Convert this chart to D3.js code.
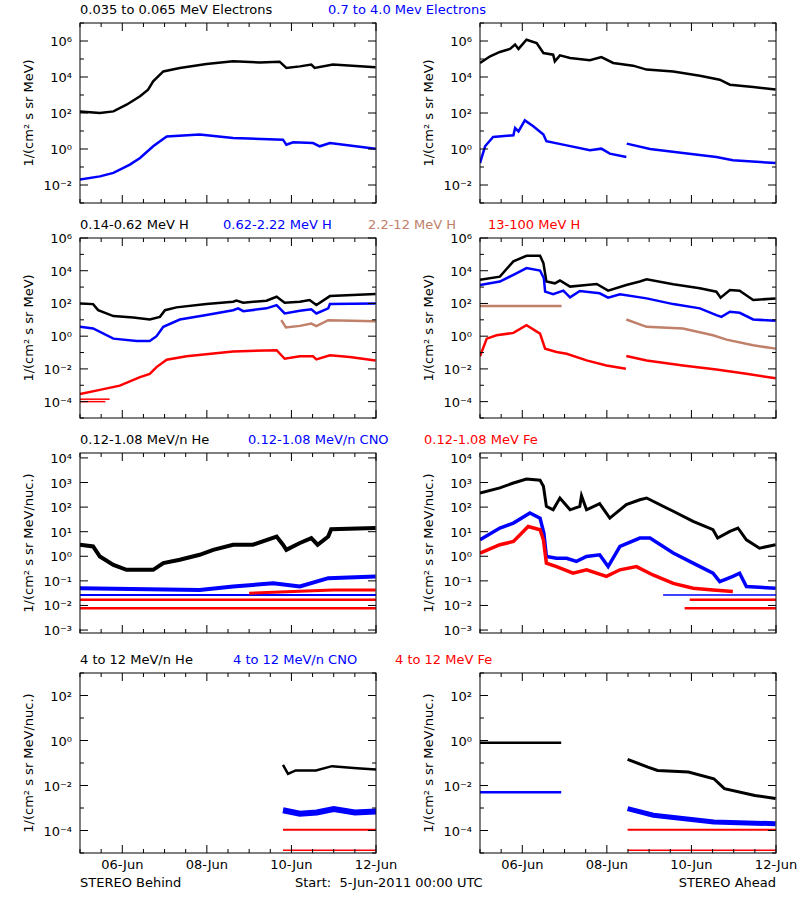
<!DOCTYPE html>
<html><head><meta charset="utf-8">
<script src="https://cdn.jsdelivr.net/npm/d3@7"></script>
<style>body{margin:0;background:#fff}text{font-family:"DejaVu Sans",sans-serif}</style>
</head><body>
<svg id="c" width="800" height="900"></svg>
<script>
// values are [day since 5-Jun-2011 00:00, log10(flux)]
const xTickLabels = ["06-Jun","08-Jun","10-Jun","12-Jun"];
const xTickDays = [1,3,5,7];
const titles = [
  [["0.035 to 0.065 MeV Electrons","#000"],["0.7 to 4.0 Mev Electrons","#0000ff"]],
  [["0.14-0.62 MeV H","#000"],["0.62-2.22 MeV H","#0000ff"],["2.2-12 MeV H","#c0806a"],["13-100 MeV H","#ff0000"]],
  [["0.12-1.08 MeV/n He","#000"],["0.12-1.08 MeV/n CNO","#0000ff"],["0.12-1.08 MeV Fe","#ff0000"]],
  [["4 to 12 MeV/n He","#000"],["4 to 12 MeV/n CNO","#0000ff"],["4 to 12 MeV Fe","#ff0000"]]
];
const titleX = [[80,328],[80,223,368,488],[80,248,424],[80,233,395]];
const yDomainsLog = [[-3,7],[-5,6],[-3.12,4.2],[-5,3]];
const yLabelStep = [2,2,1,2];
const yTitles = ["1/(cm² s sr MeV)","1/(cm² s sr MeV)","1/(cm² s sr MeV/nuc.)","1/(cm² s sr MeV/nuc.)"];

// Row 1 electrons
const eLoB = [[0,2.09],[0.47,2.0],[0.79,2.09],[1.1,2.46],[1.42,2.93],[1.61,3.3],[1.73,3.76],[1.97,4.31],[2.36,4.5],[2.99,4.72],[3.62,4.87],[4.25,4.81],[4.72,4.85],[4.88,4.5],[5.2,4.59],[5.47,4.69],[5.55,4.5],[5.98,4.69],[6.99,4.54]];
const eHiB = [[0,-1.7],[0.47,-1.52],[0.79,-1.33],[1.18,-0.87],[1.42,-0.5],[1.73,0.15],[2.05,0.7],[2.83,0.8],[3.62,0.61],[4.8,0.52],[4.88,0.24],[5.04,0.37],[5.51,0.33],[5.67,0.15],[5.91,0.33],[6.99,0.02]];
const eLoA = [[0,4.78],[0.24,5.15],[0.47,5.39],[0.71,5.56],[0.83,5.8],[0.91,5.56],[1.1,6.07],[1.34,5.89],[1.5,5.33],[1.73,5.24],[1.77,4.87],[1.89,5.2],[2.13,5.06],[2.6,4.93],[2.87,5.11],[3.15,4.78],[3.62,4.63],[3.94,4.41],[4.57,4.3],[5.2,4.07],[5.67,3.85],[5.91,3.57],[6.46,3.44],[6.99,3.3]];
const eHiA1 = [[0,-0.78],[0.12,0.15],[0.31,0.67],[0.79,0.76],[0.83,1.17],[0.91,0.98],[1.06,1.59],[1.26,1.26],[1.5,0.8],[1.57,0.43],[2.05,0.2],[2.6,-0.07],[2.87,0.02],[3.07,-0.26],[3.46,-0.44]];
const eHiA2 = [[3.47,0.3],[4.02,0],[4.8,-0.22],[5.59,-0.44],[5.98,-0.63],[6.99,-0.78]];

// Row 2 protons
const h1B = [[0,2.0],[0.31,1.96],[0.43,1.59],[0.79,1.23],[1.26,1.14],[1.65,1.02],[1.89,1.18],[2.01,1.59],[2.28,1.76],[2.99,1.96],[3.62,2.11],[3.7,2.17],[3.86,2.05],[4.41,2.17],[4.65,2.41],[4.84,2.05],[5.2,2.11],[5.43,2.21],[5.59,1.9],[5.91,2.45],[6.99,2.58]];
const h2B = [[0,0.57],[0.31,0.47],[0.79,-0.15],[1.34,-0.29],[1.65,-0.29],[1.81,0.0],[1.97,0.57],[2.36,1.02],[2.99,1.29],[3.62,1.59],[3.74,1.7],[3.86,1.53],[4.41,1.7],[4.65,1.9],[4.84,1.39],[5.2,1.55],[5.47,1.64],[5.59,1.39],[5.87,1.7],[5.91,1.96],[6.99,2.0]];
const h3B = [[4.76,0.98],[4.87,0.53],[5.2,0.63],[5.47,0.77],[5.59,0.61],[5.87,0.98],[6.99,0.92]];
const h4B = [[0,-3.53],[0.47,-3.28],[0.94,-3.02],[1.42,-2.5],[1.65,-2.3],[1.81,-1.89],[2.05,-1.44],[2.52,-1.23],[3.62,-0.93],[4.65,-0.86],[4.84,-1.38],[5.2,-1.23],[5.51,-1.23],[5.59,-1.42],[5.91,-1.17],[6.38,-1.27],[6.99,-1.48]];
const h4BFloor1 = [[0,-3.85],[0.7,-3.85]];
const h4BFloor2 = [[0,-4.0],[0.6,-4.0]];
const h1A = [[0,3.44],[0.47,3.64],[0.79,4.57],[1.1,4.91],[1.42,4.91],[1.5,4.46],[1.57,3.34],[1.77,3.23],[1.89,3.4],[2.13,3.03],[2.52,3.13],[2.76,3.19],[3.03,2.78],[3.46,3.13],[3.78,3.34],[3.94,3.48],[4.57,3.17],[5.2,2.93],[5.59,2.72],[5.69,2.35],[5.91,2.82],[6.14,2.78],[6.46,2.21],[6.99,2.31]];
const h2A = [[0,3.13],[0.47,3.34],[0.79,3.75],[1.1,4.16],[1.42,4.01],[1.51,3.54],[1.54,2.72],[1.73,2.56],[1.97,2.78],[2.13,2.37],[2.36,2.76],[2.83,2.62],[3.03,2.35],[3.31,2.56],[3.94,2.31],[4.57,1.96],[5.2,1.7],[5.59,1.29],[5.71,1.18],[5.91,1.49],[6.14,1.43],[6.46,1.02],[6.99,0.94]];
const h3A1 = [[0,1.84],[1.93,1.84]];
const h3A2 = [[3.46,1.02],[3.94,0.57],[4.8,0.47],[5.51,0.06],[5.83,-0.21],[6.46,-0.56],[6.99,-0.76]];
const h4A1 = [[0,-1.23],[0.16,-0.15],[0.39,0.06],[0.79,0.2],[1.1,0.67],[1.42,0.16],[1.54,-0.76],[1.81,-0.97],[2.05,-1.07],[2.52,-1.48],[2.99,-1.79],[3.45,-1.99]];
const h4A2 = [[3.46,-1.21],[3.94,-1.48],[4.8,-1.79],[5.59,-2.03],[6.3,-2.3],[6.99,-2.57]];

// Row 3 low-energy ions
const heB = [[0,0.47],[0.31,0.4],[0.47,-0.01],[0.79,-0.35],[1.1,-0.55],[1.42,-0.55],[1.73,-0.55],[1.97,-0.28],[2.36,-0.14],[2.83,0.06],[3.15,0.26],[3.62,0.47],[4.09,0.47],[4.65,0.8],[4.8,0.47],[4.88,0.26],[5.2,0.54],[5.47,0.74],[5.62,0.47],[5.87,0.8],[5.94,1.1],[6.99,1.15]];
const cnoB = [[0,-1.3],[2.83,-1.37],[3.62,-1.23],[4.57,-1.1],[5.2,-1.23],[5.87,-0.89],[6.99,-0.82]];
const feB = [[4.0,-1.5],[5.5,-1.4],[6.0,-1.37],[6.99,-1.37]];
const floorB1 = [[0,-1.57],[7,-1.57]];
const floorB2 = [[0,-1.77],[7,-1.77]];
const floorB3 = [[0,-2.11],[7,-2.11]];
const heA = [[0,2.57],[0.47,2.78],[0.79,2.98],[1.1,3.14],[1.42,3.09],[1.5,2.85],[1.57,2.03],[1.73,1.89],[1.89,2.37],[2.13,1.89],[2.36,2.03],[2.4,2.46],[2.52,1.89],[2.83,2.14],[3.07,1.55],[3.46,2.1],[3.78,2.3],[3.94,2.37],[4.57,1.83],[5.04,1.42],[5.51,1.08],[5.62,0.74],[5.91,1.01],[6.1,1.15],[6.3,0.67],[6.61,0.33],[6.99,0.47]];
const cnoA = [[0,0.67],[0.47,1.15],[0.79,1.35],[1.18,1.76],[1.42,1.55],[1.51,0.94],[1.57,-0.01],[1.81,-0.08],[2.05,-0.08],[2.28,-0.21],[2.52,-0.01],[2.83,0.06],[3.03,-0.42],[3.31,0.4],[3.78,0.74],[4.02,0.74],[4.57,0.13],[5.04,-0.28],[5.51,-0.69],[5.67,-1.03],[5.98,-0.82],[6.14,-0.69],[6.3,-1.23],[6.99,-1.3]];
const feA = [[0,0.13],[0.47,0.47],[0.79,0.6],[1.14,1.21],[1.42,1.08],[1.5,0.67],[1.57,-0.28],[1.81,-0.42],[2.2,-0.69],[2.52,-0.55],[2.99,-0.82],[3.31,-0.55],[3.7,-0.42],[4.09,-0.76],[4.57,-1.1],[5.04,-1.3],[5.51,-1.37],[5.98,-1.43]];
const floorA1 = [[4.33,-1.57],[7,-1.57]];
const floorA2 = [[4.96,-1.77],[7,-1.77]];
const floorA3 = [[4.84,-2.11],[7,-2.11]];

// Row 4 high-energy ions
const he4B = [[4.8,-1.08],[4.92,-1.48],[5.1,-1.33],[5.58,-1.33],[5.96,-1.14],[6.55,-1.23],[7.0,-1.29]];
const cno4B = [[4.8,-3.1],[5.2,-3.25],[5.6,-3.2],[6.0,-3.05],[6.5,-3.2],[7.0,-3.15]];
const fe4B1 = [[4.8,-3.97],[7,-3.97]];
const fe4B2 = [[4.8,-4.88],[7,-4.88]];
const he4A1 = [[0,-0.1],[1.92,-0.1]];
const he4A2 = [[3.49,-0.84],[3.97,-1.18],[4.2,-1.33],[4.93,-1.4],[5.53,-1.7],[5.78,-2.14],[6.5,-2.44],[6.99,-2.58]];
const cno4A1 = [[0,-2.3],[1.92,-2.3]];
const cno4A2 = [[3.49,-3.03],[4.1,-3.32],[5.53,-3.62],[6.99,-3.7]];
const fe4A1 = [[3.49,-3.97],[7,-3.97]];
const fe4A2 = [[3.49,-4.88],[7,-4.88]];

const K="#000",B="#0000ff",BR="#c0806a",R="#ff0000";
const panels = [
  [[[eLoB,K,2.5],[eHiB,B,2.5]], [[eLoA,K,2.5],[eHiA1,B,2.5],[eHiA2,B,2.5]]],
  [[[h1B,K,2.5],[h2B,B,2.5],[h3B,BR,2.5],[h4B,R,2.5],[h4BFloor1,R,1.5],[h4BFloor2,R,1.5]],
   [[h1A,K,2.5],[h2A,B,2.5],[h3A1,BR,2.5],[h3A2,BR,2.5],[h4A1,R,2.5],[h4A2,R,2.5]]],
  [[[floorB1,B,2],[floorB2,R,2.5],[floorB3,R,2.5],[cnoB,B,4],[feB,R,3],[heB,K,4]],
   [[floorA1,B,1.5],[floorA2,R,2.5],[floorA3,R,2.5],[heA,K,3],[cnoA,B,3.5],[feA,R,3.5]]],
  [[[he4B,K,2.5],[cno4B,B,6],[fe4B1,R,2],[fe4B2,R,1.5]],
   [[he4A1,K,2.5],[he4A2,K,3],[cno4A1,B,2.5],[cno4A2,B,5],[fe4A1,R,2],[fe4A2,R,1.5]]]
];

const svg = d3.select("#c");
const rowTop = [23,238,453,673], H = 180;
const colLeft = [80,480], W = 296;
const t0 = new Date(Date.UTC(2011,5,5)), t1 = new Date(Date.UTC(2011,5,12));
const dayDate = d => new Date(t0.getTime()+d*864e5);
const sup = {"-":"⁻","0":"⁰","1":"¹","2":"²","3":"³","4":"⁴","5":"⁵","6":"⁶","7":"⁷","8":"⁸","9":"⁹"};

rowTop.forEach((top,r)=>{
  // titles
  titles[r].forEach((t,i)=>svg.append("text").attr("x",titleX[r][i]).attr("y",top-9)
    .attr("font-size",13).attr("fill",t[1]).text(t[0]));
  colLeft.forEach((left,c)=>{
    const x = d3.scaleUtc().domain([t0,t1]).range([left,left+W]);
    const [lo,hi] = yDomainsLog[r];
    const y = d3.scaleLog().domain([10**lo,10**hi]).range([top+H,top]);
    const g = svg.append("g");
    const clipId = `cp${r}${c}`;
    g.append("clipPath").attr("id",clipId).append("rect").attr("x",left).attr("y",top).attr("width",W).attr("height",H);
    const line = d3.line().x(d=>x(dayDate(d[0]))).y(d=>y(10**d[1]));
    panels[r][c].forEach(([data,col,w])=>{
      g.append("path").attr("d",line(data)).attr("fill","none").attr("stroke",col)
        .attr("stroke-width",w).attr("clip-path",`url(#${clipId})`);
    });
    // frame
    g.append("rect").attr("x",left).attr("y",top).attr("width",W).attr("height",H)
      .attr("fill","none").attr("stroke","#000").attr("stroke-width",1);
    // y ticks
    const decs = d3.range(Math.ceil(lo),Math.floor(hi)+1);
    decs.forEach(e=>{
      const major = (e % yLabelStep[r])===0;
      const len = major?8:4, yy = y(10**e);
      g.append("line").attr("x1",left).attr("x2",left+len).attr("y1",yy).attr("y2",yy).attr("stroke","#000");
      g.append("line").attr("x1",left+W).attr("x2",left+W-len).attr("y1",yy).attr("y2",yy).attr("stroke","#000");
      if(major){
        g.append("text").attr("x",left-8).attr("y",yy+5).attr("text-anchor","end").attr("font-size",13)
          .text("10"+String(e).split("").map(ch=>sup[ch]).join(""));
      }
    });
    // x ticks
    const ticks = d3.utcHour.every(12).range(t0,new Date(t1.getTime()+1));
    ticks.forEach(t=>{
      const xx = x(t), major = t.getUTCHours()===0 && t.getUTCDate()%2===0;
      const len = major?8:4;
      g.append("line").attr("x1",xx).attr("x2",xx).attr("y1",top+H).attr("y2",top+H-len).attr("stroke","#000");
      g.append("line").attr("x1",xx).attr("x2",xx).attr("y1",top).attr("y2",top+len).attr("stroke","#000");
    });
    if(r===3){
      xTickDays.forEach((d,i)=>g.append("text").attr("x",x(dayDate(d))).attr("y",top+H+16)
        .attr("text-anchor","middle").attr("font-size",13).text(xTickLabels[i]));
    }
    // y title
    g.append("text").attr("transform",`translate(${left-47},${top+H/2}) rotate(-90)`)
      .attr("text-anchor","middle").attr("font-size",13).text(yTitles[r]);
  });
});
svg.append("text").attr("x",80).attr("y",887).attr("font-size",13).text("STEREO Behind");
svg.append("text").attr("x",295).attr("y",887).attr("font-size",13).attr("xml:space","preserve").text("Start:  5-Jun-2011 00:00 UTC");
svg.append("text").attr("x",776).attr("y",887).attr("text-anchor","end").attr("font-size",13).text("STEREO Ahead");
</script></body></html>
